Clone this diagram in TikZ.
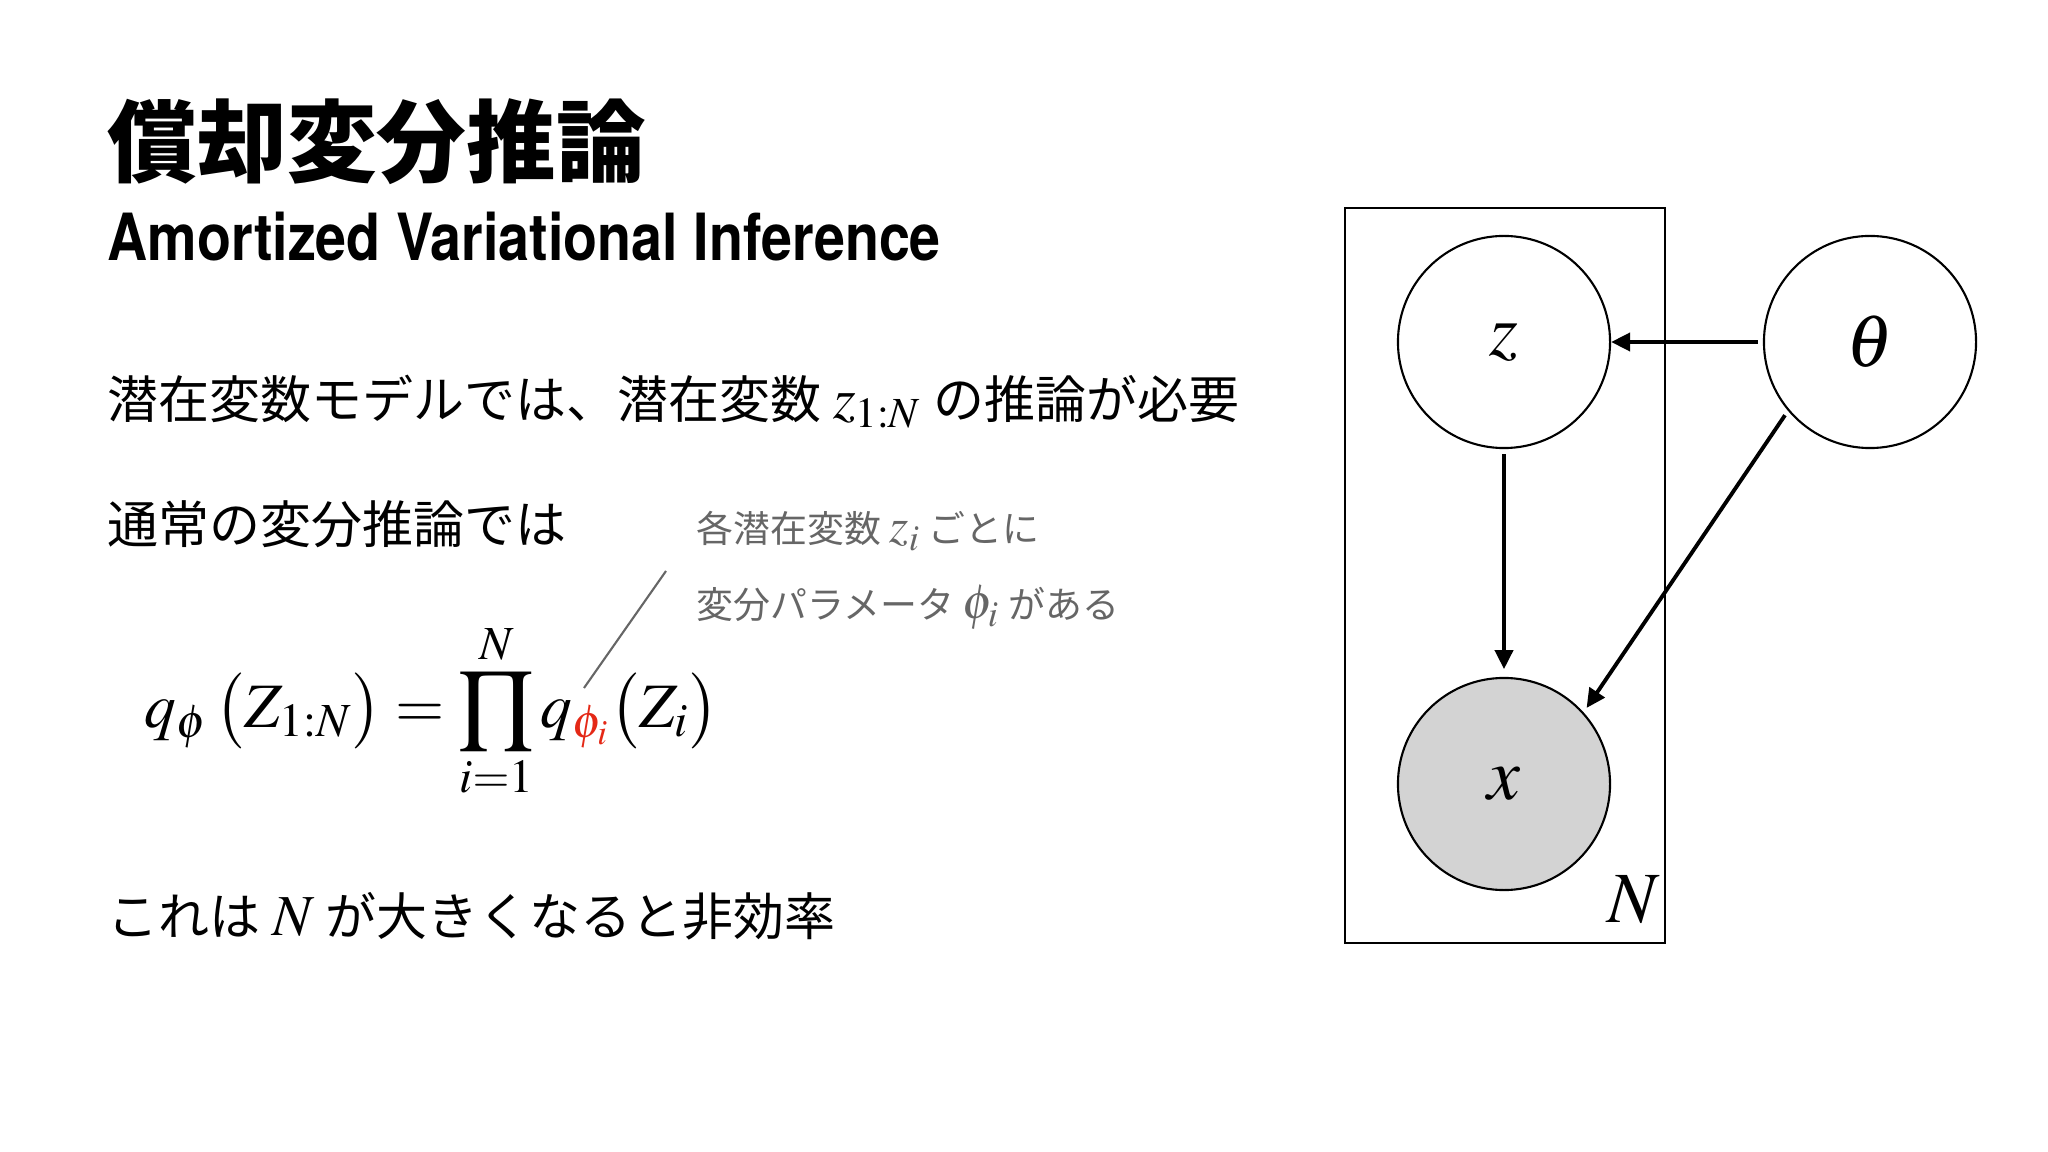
\documentclass[tikz,border=0pt]{standalone}
\usepackage{mathptmx}
\usepackage[no-math]{fontspec}
\usepackage{graphicx}
\setmainfont{TeX Gyre Heros}
\newfontfamily\jp{Noto Sans CJK JP}
\usepackage{tikz}
\usetikzlibrary{positioning}
\usetikzlibrary{arrows.meta}
\usetikzlibrary{calc}
\DeclareMathSizes{18}{18}{13.5}{10}

\definecolor{notegray}{RGB}{102,102,102}
\definecolor{obsgray}{RGB}{211,211,211}
\definecolor{eqred}{RGB}{228,40,22}
\newcommand{\bodymath}[1]{{\fontsize{16.5}{19}\selectfont$#1$}}
\newcommand{\notemath}[1]{{\fontsize{14}{15}\selectfont$#1$}}

\begin{document}
\begin{tikzpicture}[x=0.01cm,y=-0.01cm,
% Graphical model style
    latent/.style={circle,draw,line width=0.6pt,minimum size=2.12cm,
		inner sep=0,font=\fontsize{21}{24}\selectfont},
    obs/.style={latent,fill=obsgray},
    edge/.style={-{Triangle[length=1.9mm,width=1.8mm]},line width=1.1pt,
		shorten >=1.5pt,shorten <=1.5pt},
    plate/.style={draw,line width=0.6pt,minimum width=3.2cm,minimum height=7.35cm},
% Text style
    title/.style={inner sep=0,anchor=base west,font=\jp\bfseries\fontsize{25.5}{30}\selectfont},
    subtitle/.style={inner sep=0,anchor=base west,font=\bfseries\fontsize{18.5}{22}\selectfont},
    body/.style={inner sep=0,anchor=base west,font=\jp\fontsize{14.5}{17}\selectfont},
    note/.style={inner sep=0,anchor=base west,text=notegray,font=\jp\fontsize{10.5}{13}\selectfont},
    ]
  \useasboundingbox (0,0) rectangle (2048,1152);

  % headings
  \node (title) [title] at (107,176) {償却変分推論};
  \node (subtitle) [subtitle] at (107,261) {\scalebox{0.855}[1]{Amortized Variational Inference}};

  % body lines
  \node (line1) [body] at (107,419) {潜在変数モデルでは、潜在変数 \bodymath{z_{1:N}} の推論が必要};
  \node (line2) [body] at (107,544) {通常の変分推論では};
  \node (line3) [body] at (107,935) {これは \bodymath{N} が大きくなると非効率};

  % equation
  \node (eq) [inner sep=0,anchor=base west,font=\fontsize{18}{22}\selectfont] at (144,727)
    {$\displaystyle q_{\phi}\,\bigl(Z_{1:N}\bigr) = \prod_{i=1}^{N} q_{\textcolor{eqred}{\phi_i}}\bigl(Z_i\bigr)$};

  % annotation
  \node (note1) [note] at (696,543) {各潜在変数 \notemath{z_i} ごとに};
  \node (note2) [note] at (696,619) {変分パラメータ \notemath{\phi_i} がある};
  \coordinate (leadtop) at (666,571);
  \coordinate (leadend) at (584,688);
  \draw [notegray,line width=0.6pt] (leadtop) -- (leadend);

  % graphical model
  \node (plate) [plate] at (1505,575.5) {};
  \node (z) [latent] at (1504,342) {$z$};
  \node (theta) [latent] at (1870,342) {$\theta$};
  \node (x) [obs] at (1504,784) {$x$};
  \node (N) [inner sep=0,anchor=south east,font=\fontsize{20.5}{24}\selectfont]
    at ($(plate.south east)+(-6,-20)$) {$N$};

  \draw [edge,shorten >=0pt] (theta) -- (z);
  \draw [edge,shorten >=2.2pt] (z) -- (x);
  \draw [edge] (theta.220) -- (x.42);

\end{tikzpicture}
\end{document}
